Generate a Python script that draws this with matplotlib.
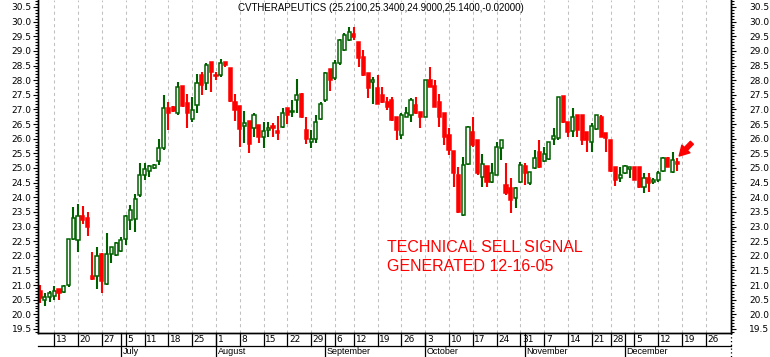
"""
Daily candlestick chart for CV Therapeutics, June - December 2005,
with the "technical sell signal" note from 16 Dec.
"""

import pandas as pd
import matplotlib
matplotlib.use("Agg")
import matplotlib.pyplot as plt
import matplotlib.transforms as mtransforms
from matplotlib.patches import Rectangle
from matplotlib.lines import Line2D
from matplotlib.ticker import MultipleLocator

# ---- data, one value per trading day from 8 Jun 2005 ----
opens = [20.80, 20.50, 20.60, 20.62, 20.85, 20.77, 21.00, 22.56, 22.55, 23.36,
         23.28, 21.31, 21.30, 22.06, 21.04, 22.06, 22.03, 22.17, 22.56, 23.22,
         23.25, 24.08, 24.75, 24.91, 25.00, 25.24, 25.67, 27.04, 27.10, 26.87,
         27.80, 27.23, 26.66, 27.15, 28.18, 27.91, 28.62, 28.18, 28.18, 28.63,
         28.40, 27.27, 27.12, 26.45, 26.62, 26.35, 26.47, 26.07, 26.30, 26.45,
         26.26, 26.41, 27.04, 26.90, 27.32, 27.53, 26.30, 25.90, 26.00, 26.66,
         27.32, 28.37, 28.06, 28.58, 29.03, 29.37, 29.58, 29.32, 28.80, 28.23,
         27.95, 27.72, 27.49, 27.27, 27.32, 26.75, 26.13, 26.75, 26.81, 27.15,
         26.92, 26.75, 28.00, 27.80, 27.27, 26.87, 26.13, 25.59, 24.76, 23.39,
         25.14, 26.24, 25.96, 24.70, 25.07, 24.53, 24.76, 25.67, 24.42, 24.30,
         23.96, 24.53, 25.07, 24.47, 24.99, 25.56, 25.25, 25.30, 25.98, 26.01,
         27.46, 26.58, 26.28, 26.81, 26.81, 26.24, 25.90, 26.32, 26.75, 26.18,
         25.96, 25.05, 24.65, 24.82, 24.95, 25.05, 25.05, 24.36, 24.65, 24.53,
         24.59, 24.91, 25.33, 24.87, 25.21]
highs = [21.00, 20.74, 20.80, 20.97, 20.85, 21.00, 22.56, 23.68, 23.77, 23.70,
         23.50, 22.14, 22.30, 22.10, 22.77, 22.31, 22.48, 22.63, 23.39, 23.73,
         24.11, 25.18, 25.18, 25.10, 25.12, 25.98, 27.49, 27.27, 27.12, 27.95,
         27.80, 27.53, 27.41, 28.21, 28.29, 28.58, 28.62, 28.29, 28.71, 28.63,
         28.40, 27.53, 27.12, 26.95, 26.62, 26.87, 26.47, 26.58, 26.58, 26.52,
         26.77, 27.04, 27.04, 27.32, 28.04, 27.55, 26.73, 26.30, 26.81, 27.27,
         28.29, 28.37, 28.69, 29.40, 29.60, 29.80, 29.83, 29.32, 29.03, 28.23,
         28.10, 28.18, 27.78, 27.44, 27.44, 26.75, 26.87, 27.10, 27.38, 27.44,
         26.92, 28.00, 28.46, 28.00, 27.53, 26.87, 26.35, 25.59, 25.05, 25.39,
         26.43, 26.75, 25.96, 25.48, 25.07, 25.16, 25.90, 25.96, 25.16, 24.65,
         24.34, 25.20, 25.16, 24.87, 25.61, 25.96, 25.73, 25.90, 26.35, 27.44,
         27.46, 26.58, 27.04, 26.81, 26.81, 26.24, 26.52, 26.81, 26.81, 26.18,
         25.96, 25.05, 25.05, 25.10, 25.02, 25.05, 25.05, 24.82, 24.84, 24.65,
         24.91, 25.39, 25.39, 25.56, 25.34]
lows = [20.37, 20.28, 20.43, 20.50, 20.50, 20.72, 20.95, 22.55, 22.14, 23.10,
        22.68, 21.17, 20.85, 20.72, 21.00, 21.74, 22.00, 22.14, 22.37, 22.88,
        22.82, 24.02, 24.59, 24.70, 24.95, 25.10, 25.62, 26.30, 26.90, 26.81,
        27.10, 26.35, 26.58, 26.89, 27.49, 27.66, 27.60, 28.00, 28.12, 28.46,
        27.27, 26.62, 25.70, 25.84, 25.52, 26.05, 25.87, 25.67, 26.07, 26.07,
        25.96, 26.35, 26.50, 26.75, 26.87, 26.70, 25.82, 25.67, 25.84, 26.64,
        27.27, 27.64, 28.00, 28.52, 29.01, 29.35, 29.37, 28.46, 28.14, 27.38,
        27.20, 27.18, 27.21, 26.98, 26.62, 25.96, 26.00, 26.75, 26.58, 26.84,
        26.35, 26.73, 27.75, 27.07, 26.41, 25.78, 25.44, 24.36, 23.45, 23.37,
        25.10, 25.73, 24.76, 24.34, 24.36, 24.50, 24.76, 25.27, 24.08, 23.45,
        23.62, 24.47, 24.42, 24.42, 24.95, 25.00, 25.22, 25.27, 25.78, 25.96,
        26.55, 26.05, 26.07, 26.05, 25.78, 25.56, 25.56, 26.30, 26.05, 25.56,
        24.87, 24.38, 24.53, 24.80, 24.65, 24.59, 24.30, 24.16, 24.19, 24.45,
        24.53, 24.87, 25.03, 24.84, 24.90]
closes = [20.55, 20.60, 20.72, 20.80, 20.74, 20.97, 22.56, 23.30, 23.36, 23.22,
          23.00, 21.20, 22.00, 21.15, 22.06, 22.29, 22.45, 22.55, 23.36, 23.56,
          23.93, 24.76, 24.95, 25.08, 25.10, 25.67, 27.04, 26.87, 26.93, 27.76,
          27.12, 26.87, 26.98, 27.91, 27.84, 28.52, 28.29, 28.13, 28.60, 28.52,
          27.30, 26.98, 26.32, 26.52, 25.82, 26.81, 26.07, 26.26, 26.37, 26.37,
          26.20, 26.87, 26.81, 26.95, 27.49, 26.73, 25.98, 26.00, 26.58, 27.20,
          28.23, 28.00, 28.58, 29.37, 29.54, 29.66, 29.49, 28.75, 28.18, 27.72,
          28.00, 27.20, 27.27, 27.10, 26.64, 26.30, 26.81, 26.87, 27.32, 26.87,
          26.75, 28.00, 27.78, 27.10, 26.75, 26.07, 25.61, 24.84, 23.51, 25.10,
          26.41, 25.78, 24.82, 25.14, 24.53, 24.82, 25.73, 25.96, 24.13, 23.90,
          24.30, 25.10, 24.82, 24.87, 25.33, 25.05, 25.48, 25.90, 26.09, 27.41,
          26.58, 26.24, 26.73, 26.30, 25.96, 25.96, 26.43, 26.81, 26.07, 26.01,
          24.91, 24.59, 24.76, 25.07, 25.02, 24.59, 24.36, 24.65, 24.50, 24.59,
          24.82, 25.33, 25.05, 25.27, 25.14]

holidays = ["2005-07-04", "2005-09-05", "2005-11-24"]
title = "CVTHERAPEUTICS (25.2100,25.3400,24.9000,25.1400,-0.02000)"
note = ["TECHNICAL SELL SIGNAL", "GENERATED 12-16-05"]

# trading calendar (runs on past the last bar, to the end of the year)
days = pd.bdate_range("2005-06-08", "2005-12-30")
days = days[~days.isin(pd.to_datetime(holidays))]

GREEN = "#006000"
RED = "#ff0000"
W, H = 770, 357

fig = plt.figure(figsize=(W / 100, H / 100), dpi=100)
ax = fig.add_axes([38 / W, 24 / H, 693 / W, 333 / H])

# candles: up days hollow green, down days solid red
body_w = 0.66
for i, (o, h, l, c) in enumerate(zip(opens, highs, lows, closes)):
    up = c >= o
    col = GREEN if up else RED
    ax.vlines(i, l, h, color=col, lw=1.5, zorder=2)
    bottom = min(o, c)
    height = max(abs(c - o), 0.03)
    ax.add_patch(Rectangle((i - body_w / 2, bottom), body_w, height,
                           facecolor="white" if up else RED, edgecolor=col,
                           lw=1.1, zorder=3))

ax.set_xlim(-0.42, 145.3)
ax.set_ylim(19.362, 30.739)

# week and month positions from the calendar
week_pos, week_lab, month_pos, month_lab = [], [], [], []
for i in range(1, len(days)):
    if days[i].isocalendar()[1] != days[i - 1].isocalendar()[1]:
        week_pos.append(i)
        week_lab.append(str(days[i].day))
    if days[i].month != days[i - 1].month:
        month_pos.append(i)
        month_lab.append(days[i].strftime("%B"))

for p in week_pos:
    ax.axvline(p, color="#c0c0c0", lw=0.75, ls=(0, (3, 3)), zorder=1)

# y axes: left and right, 0.5 major / 0.1 minor
for a, pad in ((ax, 1), (None, 9.5)):
    if a is None:
        a = ax.twinx()
        a.set_ylim(ax.get_ylim())
    a.yaxis.set_major_locator(MultipleLocator(0.5))
    a.yaxis.set_minor_locator(MultipleLocator(0.1))
    a.yaxis.set_major_formatter(lambda v, _: f"{v:.1f}")
    a.tick_params(axis="y", which="major", length=3.6, width=0.8, pad=pad,
                  labelsize=6.5, direction="out")
    a.tick_params(axis="y", which="minor", length=2.2, width=0.8, direction="out")
    a.spines["top"].set_visible(False)
    for s in ("left", "right", "bottom"):
        a.spines[s].set_linewidth(1.0)
ax.set_xticks([])

# two-row date axis under the plot
tr = mtransforms.blended_transform_factory(ax.transData, fig.transFigure)
y_top, y_mid, y_bot = 24 / H, 11.3 / H, 0.0
x0, x1 = ax.get_xlim()
fig.add_artist(Line2D([x0, x1], [y_mid, y_mid], transform=tr, color="black", lw=0.9))
fig.add_artist(Line2D([x1, x1], [y_top, y_bot], transform=tr, color="black",
                      lw=0.9, ls=(0, (1, 2))))
for p, lab in zip(week_pos, week_lab):
    fig.add_artist(Line2D([p, p], [y_top, y_mid], transform=tr, color="black", lw=0.9))
    fig.text(p + 0.35, (y_top + y_mid) / 2, lab, transform=tr, ha="left",
             va="center", fontsize=6.5)
for p, lab in zip(month_pos, month_lab):
    fig.add_artist(Line2D([p, p], [y_top, y_bot], transform=tr, color="black", lw=0.9))
    fig.text(p + 0.35, y_mid / 2, lab, transform=tr, ha="left", va="center",
             fontsize=6.5, family="Liberation Sans")

# title and note
fig.text(381 / W, 1 - 11 / H, title, ha="center", va="baseline",
         fontsize=7, family="Liberation Sans")
fig.text(387 / W, 1 - 252 / H, note[0], ha="left", va="baseline",
         fontsize=11.5, color=RED, family="Liberation Sans")
fig.text(387 / W, 1 - 271 / H, note[1], ha="left", va="baseline",
         fontsize=11.5, color=RED, family="Liberation Sans")

# arrow pointing at the last bar
ax.annotate("", xy=(len(closes) - 1, highs[-1]), xytext=(10.5, 11),
            textcoords="offset points",
            arrowprops=dict(arrowstyle="simple,head_length=0.7,head_width=0.8,tail_width=0.3",
                            color=RED, shrinkA=0, shrinkB=2))

fig.savefig("out.png", dpi=100)
